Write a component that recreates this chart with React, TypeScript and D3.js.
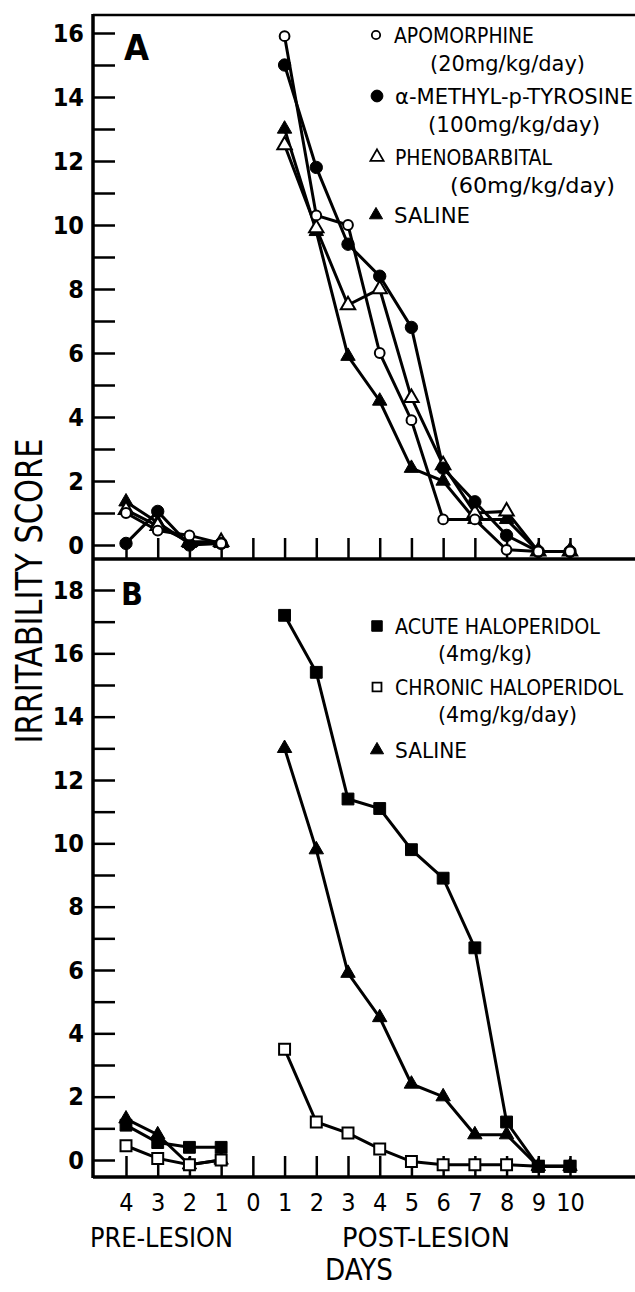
import React, { useEffect, useRef } from "react";
import * as d3 from "d3";

// x categories: 4 pre-lesion days, day 0, 10 post-lesion days
const dayKeys = ["pre4", "pre3", "pre2", "pre1", "zero", "post1", "post2", "post3", "post4", "post5", "post6", "post7", "post8", "post9", "post10"];
const dayLabels = ["4", "3", "2", "1", "0", "1", "2", "3", "4", "5", "6", "7", "8", "9", "10"];
const preKeys = dayKeys.slice(0, 4);
const postKeys = dayKeys.slice(5);

// Panel A
const apoPre = [1.0, 0.45, 0.3, 0.05];
const apoPost = [15.9, 10.3, 10.0, 6.0, 3.9, 0.8, 0.8, -0.15, -0.2, -0.2];
const amptPre = [0.05, 1.05, 0.0, 0.05];
const amptPost = [15.0, 11.8, 9.4, 8.4, 6.8, 2.4, 1.35, 0.3, -0.2, -0.2];
const phenoPre = [1.1, 0.6, 0.1, 0.1];
const phenoPost = [12.5, 9.9, 7.5, 8.0, 4.6, 2.5, 1.0, 1.05, -0.2, -0.2];
const salinePreA = [1.35, 0.7, 0.05, 0.05];
const salinePost = [13.0, 9.8, 5.9, 4.5, 2.4, 2.0, 0.8, 0.8, -0.2, -0.2];

// Panel B
const acutePre = [1.1, 0.55, 0.4, 0.4];
const acutePost = [17.2, 15.4, 11.4, 11.1, 9.8, 8.9, 6.7, 1.2, -0.2, -0.2];
const chronicPre = [0.45, 0.05, -0.15, 0.0];
const chronicPost = [3.5, 1.2, 0.85, 0.35, -0.05, -0.15, -0.15, -0.15, -0.2, -0.2];
const salinePreB = [1.3, 0.8, -0.15, 0.0];

const legendA = ["APOMORPHINE", "(20mg/kg/day)", "α-METHYL-p-TYROSINE", "(100mg/kg/day)", "PHENOBARBITAL", "(60mg/kg/day)", "SALINE"];
const legendB = ["ACUTE HALOPERIDOL", "(4mg/kg)", "CHRONIC HALOPERIDOL", "(4mg/kg/day)", "SALINE"];

const FONT = "'Liberation Sans Narrow', 'DejaVu Sans Condensed', 'Roboto', sans-serif";

export default function App() {
  const ref = useRef<SVGSVGElement>(null);

  useEffect(() => {
    const w = 635;
    const h = 1292;
    const axisX = 93;

    const svg = d3.select(ref.current).html("").attr("width", w).attr("height", h);
    svg.append("rect").attr("width", w).attr("height", h).attr("fill", "#fff");

    const x = d3.scalePoint<string>().domain(dayKeys).range([126, 570]);
    const yA = d3.scaleLinear().domain([0, 16]).range([545, 33]);
    const yB = d3.scaleLinear().domain([0, 18]).range([1160, 590]);

    // frame: left axis, top border, two baselines
    const frame = svg.append("g").attr("stroke", "#000").attr("stroke-width", 3.5);
    frame.append("line").attr("x1", axisX).attr("x2", axisX).attr("y1", 14).attr("y2", 1178);
    frame.append("line").attr("x1", axisX).attr("x2", w).attr("y1", 15).attr("y2", 15).attr("stroke-width", 2.5);
    frame.append("line").attr("x1", axisX).attr("x2", w).attr("y1", 559).attr("y2", 559);
    frame.append("line").attr("x1", axisX).attr("x2", w).attr("y1", 1177).attr("y2", 1177);

    const styleAxis = (g: any, weight: string) => {
      g.select(".domain").remove();
      g.attr("font-family", FONT);
      g.selectAll(".tick line").attr("stroke", "#000").attr("stroke-width", 2.5);
      g.selectAll(".tick text").attr("fill", "#000").attr("font-size", 25).attr("font-weight", weight);
    };

    // y axes (ticks point inward)
    const yAxisA = d3.axisLeft(yA).tickValues(d3.range(0, 17)).tickSize(-22).tickPadding(9)
      .tickFormat((d: any) => (d % 2 === 0 ? String(d) : ""));
    svg.append("g").attr("transform", `translate(${axisX},0)`).call(yAxisA).call(styleAxis, "bold");

    const yAxisB = d3.axisLeft(yB).tickValues(d3.range(0, 19)).tickSize(-22).tickPadding(9)
      .tickFormat((d: any) => (d % 2 === 0 ? String(d) : ""));
    svg.append("g").attr("transform", `translate(${axisX},0)`).call(yAxisB).call(styleAxis, "bold");

    // x axes
    const xAxisA = d3.axisBottom(x).tickSize(-21).tickFormat(() => "");
    svg.append("g").attr("transform", "translate(0,559)").call(xAxisA).call(styleAxis, "normal");

    const xAxisB = d3.axisBottom(x).tickSize(-21).tickPadding(16)
      .tickFormat((d: any, i: number) => dayLabels[i]);
    svg.append("g").attr("transform", "translate(0,1177)").call(xAxisB).call(styleAxis, "normal");

    // series
    const line = (y: any) => d3.line<[string, number]>().x(d => x(d[0]) as number).y(d => y(d[1]));

    const drawPanel = (y: any, series: any[]) => {
      const g = svg.append("g");
      series.forEach(s => {
        [d3.zip(preKeys, s.pre), d3.zip(postKeys, s.post)].forEach(pts => {
          g.append("path").datum(pts).attr("fill", "none").attr("stroke", "#000")
            .attr("stroke-width", 3).attr("d", line(y));
        });
      });
      series.forEach(s => {
        const pts = [...d3.zip(preKeys, s.pre), ...d3.zip(postKeys, s.post)];
        g.selectAll(null).data(pts).join("path")
          .attr("transform", (d: any) => `translate(${x(d[0])},${y(d[1])})`)
          .attr("d", d3.symbol().type(s.symbol).size(s.size)())
          .attr("fill", s.open ? "#fff" : "#000")
          .attr("stroke", "#000")
          .attr("stroke-width", s.open ? 2 : 1);
      });
    };

    drawPanel(yA, [
      { pre: salinePreA, post: salinePost, symbol: d3.symbolTriangle, size: 90, open: false },
      { pre: phenoPre, post: phenoPost, symbol: d3.symbolTriangle, size: 90, open: true },
      { pre: amptPre, post: amptPost, symbol: d3.symbolCircle, size: 120, open: false },
      { pre: apoPre, post: apoPost, symbol: d3.symbolCircle, size: 75, open: true },
    ]);

    drawPanel(yB, [
      { pre: salinePreB, post: salinePost, symbol: d3.symbolTriangle, size: 90, open: false },
      { pre: chronicPre, post: chronicPost, symbol: d3.symbolSquare, size: 120, open: true },
      { pre: acutePre, post: acutePost, symbol: d3.symbolSquare, size: 140, open: false },
    ]);

    // panel letters
    svg.append("text").attr("x", 124).attr("y", 60).attr("font-family", FONT).attr("font-size", 36)
      .attr("font-weight", "bold").text("A");
    svg.append("text").attr("x", 121).attr("y", 605).attr("font-family", FONT).attr("font-size", 32)
      .attr("font-weight", "bold").text("B");

    // legends
    const legA = [
      { t: legendA[0], x: 394, y: 35, len: 140, sym: d3.symbolCircle, size: 55, open: true },
      { t: legendA[1], x: 430, y: 63, len: 155 },
      { t: legendA[2], x: 395, y: 96, len: 238, sym: d3.symbolCircle, size: 110, open: false },
      { t: legendA[3], x: 428, y: 124, len: 172 },
      { t: legendA[4], x: 395, y: 157, len: 157, sym: d3.symbolTriangle, size: 75, open: true },
      { t: legendA[5], x: 450, y: 185, len: 165 },
      { t: legendA[6], x: 394, y: 215, len: 76, sym: d3.symbolTriangle, size: 75, open: false },
    ];
    const legB = [
      { t: legendB[0], x: 395, y: 626, len: 205, sym: d3.symbolSquare, size: 110, open: false },
      { t: legendB[1], x: 438, y: 653, len: 94 },
      { t: legendB[2], x: 395, y: 687, len: 228, sym: d3.symbolSquare, size: 80, open: true },
      { t: legendB[3], x: 438, y: 714, len: 139 },
      { t: legendB[4], x: 395, y: 750, len: 72, sym: d3.symbolTriangle, size: 75, open: false },
    ];
    [...legA, ...legB].forEach((r: any) => {
      svg.append("text").attr("x", r.x).attr("y", r.y).attr("dy", "0.36em")
        .attr("font-family", FONT).attr("font-size", 21)
        .attr("textLength", r.len).attr("lengthAdjust", "spacingAndGlyphs")
        .text(r.t);
      if (r.sym) {
        svg.append("path").attr("transform", `translate(${r.x - 18},${r.y})`)
          .attr("d", d3.symbol().type(r.sym).size(r.size)())
          .attr("fill", r.open ? "#fff" : "#000").attr("stroke", "#000").attr("stroke-width", r.open ? 1.8 : 1);
      }
    });

    // axis titles
    svg.append("text").attr("transform", "translate(42,591) rotate(-90)").attr("text-anchor", "middle")
      .attr("font-family", FONT).attr("font-size", 37).attr("textLength", 305)
      .attr("lengthAdjust", "spacingAndGlyphs").text("IRRITABILITY  SCORE");
    svg.append("text").attr("x", 90).attr("y", 1247).attr("font-family", FONT).attr("font-size", 26)
      .attr("textLength", 143).attr("lengthAdjust", "spacingAndGlyphs").text("PRE-LESION");
    svg.append("text").attr("x", 342).attr("y", 1247).attr("font-family", FONT).attr("font-size", 26)
      .attr("textLength", 168).attr("lengthAdjust", "spacingAndGlyphs").text("POST-LESION");
    svg.append("text").attr("x", 325).attr("y", 1280).attr("font-family", FONT).attr("font-size", 30)
      .attr("textLength", 68).attr("lengthAdjust", "spacingAndGlyphs").text("DAYS");
  }, []);

  return <svg ref={ref} style={{ position: "absolute", left: 0, top: 0, display: "block" }}></svg>;
}
